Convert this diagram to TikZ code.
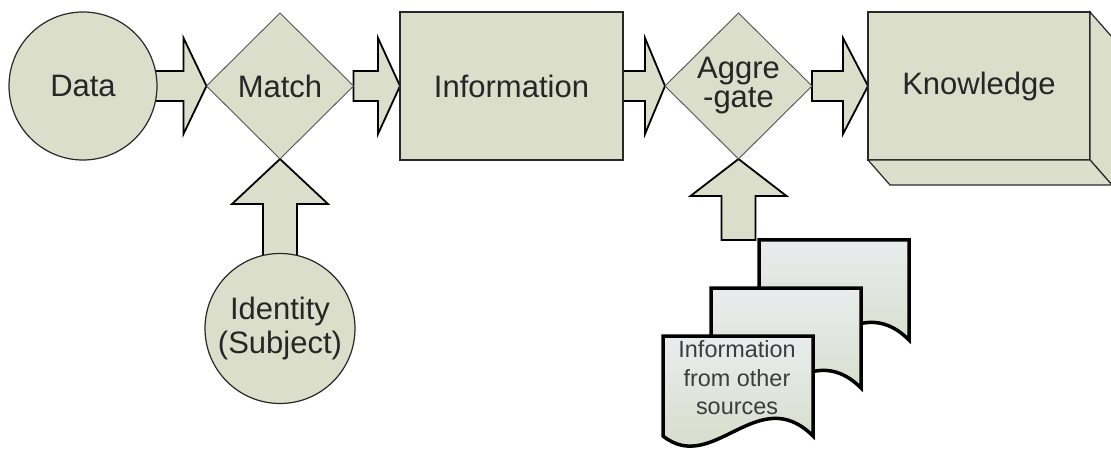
\documentclass[tikz,border=0pt]{standalone}
\usepackage{fontspec}
\setmainfont{Liberation Sans}
\usetikzlibrary{shapes.geometric,calc}
\pgfdeclarelayer{background}
\pgfsetlayers{background,main}
\definecolor{fillc}{RGB}{219,222,203}
\definecolor{linec}{RGB}{40,40,40}
\definecolor{dlinec}{RGB}{85,85,85}
\definecolor{txtc}{RGB}{38,38,38}
\definecolor{doctxt}{RGB}{60,60,60}
\definecolor{doctop}{RGB}{233,236,237}
\definecolor{docbot}{RGB}{212,217,195}
% block arrow: #1 start, #2 tip, #3 head length, #4 shaft half width, #5 head half width
\newcommand\blockarr[5]{%
  \coordinate (ba-s) at (#1);
  \coordinate (ba-t) at (#2);
  \coordinate (ba-h) at ($(ba-t)!#3!(ba-s)$);
  \draw[barrow] ($(ba-s)!#4!90:(ba-t)$) -- ($(ba-h)!#4!90:(ba-t)$)
    -- ($(ba-h)!#5!90:(ba-t)$) -- (ba-t) -- ($(ba-h)!#5!-90:(ba-t)$)
    -- ($(ba-h)!#4!-90:(ba-t)$) -- ($(ba-s)!#4!-90:(ba-t)$) -- cycle;}
\newcommand\docpath[2]{%
  \draw[docst] (#1,#2) -- ({#1+150},#2) -- ({#1+150},{#2+100})
    .. controls ({#1+95},{#2+45}) and ({#1+50},{#2+140}) .. (#1,{#2+100}) -- cycle;}
\begin{document}
\begin{tikzpicture}[x=1pt,y=-1pt,
  every node/.style={text=txtc, font=\fontsize{31}{30}\selectfont, inner sep=0pt, outer sep=0pt},
  round/.style={circle, draw=linec, line width=1.2pt, fill=fillc},
  decide/.style={diamond, draw=dlinec, line width=0.9pt, fill=fillc, minimum width=147pt, minimum height=146pt},
  boxst/.style={rectangle, draw=linec, line width=1.4pt, fill=fillc},
  face/.style={draw=linec, line width=1.2pt, fill=fillc, line join=miter},
  barrow/.style={draw=black, line width=1.8pt, fill=fillc, line join=miter},
  docst/.style={draw=black, line width=3.5pt, top color=doctop, bottom color=docbot, line join=miter}]
\useasboundingbox (0,0) rectangle (1111,449);

\node[round, minimum size=148pt] (data) at (83,86) {Data};
\node[decide] (match) at (280,86) {Match};
\node[boxst, minimum width=223pt, minimum height=148pt] (info) at (511.5,86) {Information};
\node[decide, align=center] (agg) at (738.5,86) {Aggre\\[-1pt]-gate};
\node[boxst, minimum width=222pt, minimum height=148pt] (know) at (979,86) {Knowledge};
\node[round, minimum size=150pt, align=center] (ident) at (280,328.5) {Identity\\[4pt](Subject)};
\coordinate (aggfoot) at (738.5,240);

\draw[face] (know.north east) -- ++(22,25) -- ++(0,148) -- (know.south east) -- cycle;
\draw[face] (know.south west) -- ++(22,25) -- ++(222,0) -- (know.south east) -- cycle;

\begin{pgfonlayer}{background}
  \fill[white] (0,0) rectangle (1111,449);
  \blockarr{data.center}{match.west}{23pt}{15pt}{48pt}
  \blockarr{match.east}{info.west}{22pt}{15pt}{48pt}
  \blockarr{info.east}{agg.west}{20pt}{15pt}{48pt}
  \blockarr{agg.east}{know.west}{25pt}{15pt}{48pt}
  \blockarr{ident.center}{match.south}{45pt}{17pt}{48pt}
  \blockarr{aggfoot}{agg.south}{37pt}{17pt}{48pt}
\end{pgfonlayer}

\docpath{759}{240}
\docpath{711}{288}
\docpath{663}{336}
\node[text=doctxt, font=\fontsize{23.4}{28.5}\selectfont, align=center] (docs) at (737,378) {Information\\from other\\sources};
\end{tikzpicture}
\end{document}
